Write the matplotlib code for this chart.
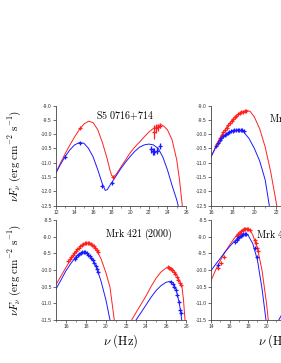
import matplotlib
matplotlib.use("Agg")
import matplotlib.pyplot as plt
from matplotlib.ticker import MultipleLocator, FormatStrFormatter

plt.rcParams['axes.unicode_minus'] = False
plt.rcParams['mathtext.fontset'] = 'cm'
plt.rcParams['font.family'] = ['Liberation Sans', 'DejaVu Sans']

RED = '#ff2020'
BLUE = '#1a1aff'

# ---------------- Panel 1: S5 0716+714 ----------------
p1_red_curve_x = [12.0, 12.5, 13.0, 13.5, 14.0, 14.5, 15.0, 15.5, 16.0, 16.5, 17.0, 17.5, 17.8, 18.0, 18.2, 18.5,
                  19.0, 19.5, 20.0, 20.5, 21.0, 21.5, 22.0, 22.5, 23.0, 23.3, 23.6, 24.0, 24.5, 25.0, 25.3, 25.6]
p1_red_curve_y = [-11.35, -11.0, -10.68, -10.38, -10.1, -9.85, -9.65, -9.55, -9.6, -9.85, -10.3, -10.85, -11.25,
                  -11.45, -11.5, -11.4, -11.15, -10.9, -10.65, -10.45, -10.28, -10.1, -9.93, -9.8, -9.7, -9.67,
                  -9.72, -9.85, -10.2, -10.9, -11.6, -12.5]
p1_blue_curve_x = [12.0, 12.5, 13.0, 13.5, 14.0, 14.5, 15.0, 15.5, 16.0, 16.5, 17.0, 17.3, 17.5, 17.8, 18.0, 18.5,
                   19.0, 19.5, 20.0, 20.5, 21.0, 21.5, 22.0, 22.5, 23.0, 23.5, 24.0, 24.5, 25.0, 25.15]
p1_blue_curve_y = [-11.35, -11.05, -10.78, -10.55, -10.38, -10.3, -10.32, -10.5, -10.8, -11.25, -11.75, -11.97,
                   -11.95, -11.8, -11.7, -11.45, -11.2, -10.98, -10.78, -10.6, -10.46, -10.38, -10.35, -10.38,
                   -10.5, -10.8, -11.25, -11.8, -12.3, -12.5]
p1_red_pts_x = [14.6, 18.1, 22.5, 22.75, 23.0, 23.25]
p1_red_pts_y = [-9.8, -11.5, -9.92, -9.8, -9.76, -9.7]
p1_red_pts_err = [0.02, 0.02, 0.25, 0.15, 0.12, 0.1]
p1_blue_pts_x = [13.0, 14.6, 17.0, 18.05, 22.2, 22.4, 22.6, 22.85, 23.2]
p1_blue_pts_y = [-10.8, -10.3, -11.8, -11.7, -10.53, -10.6, -10.62, -10.58, -10.42]
p1_blue_pts_err = [0.02, 0.02, 0.02, 0.02, 0.12, 0.12, 0.12, 0.12, 0.1]

# ---------------- Panel 2: Mrk 501 ----------------
p2_red_curve_x = [16.0, 16.5, 17.0, 17.5, 18.0, 18.5, 19.0, 19.3, 19.6, 20.0, 20.5, 21.0, 21.5, 22.07]
p2_red_curve_y = [-10.8, -10.38, -10.02, -9.72, -9.48, -9.3, -9.2, -9.18, -9.2, -9.4, -9.82, -10.45, -11.3, -12.5]
p2_blue_curve_x = [16.0, 16.5, 17.0, 17.5, 18.0, 18.5, 19.0, 19.5, 20.0, 20.5, 21.0, 21.38]
p2_blue_curve_y = [-10.8, -10.42, -10.15, -9.98, -9.88, -9.85, -9.92, -10.15, -10.5, -10.95, -11.6, -12.5]
p2_red_pts_x = [16.55, 16.7, 16.85, 17.0, 17.15, 17.3, 17.45, 17.6, 17.75, 17.9, 18.05, 18.2, 18.35, 18.5, 18.65,
                18.8, 18.95, 19.1, 19.25]
p2_red_pts_y = [-10.36, -10.25, -10.14, -10.02, -9.93, -9.87, -9.77, -9.68, -9.6, -9.53, -9.47, -9.41, -9.36,
                -9.31, -9.27, -9.24, -9.22, -9.2, -9.19]
p2_blue_pts_x = [16.5, 16.65, 16.8, 16.95, 17.1, 17.25, 17.4, 17.55, 17.7, 17.85, 18.0, 18.15, 18.3, 18.45, 18.6,
                 18.75, 18.9, 19.05]
p2_blue_pts_y = [-10.4, -10.3, -10.22, -10.15, -10.08, -10.03, -9.99, -9.95, -9.92, -9.9, -9.88, -9.86, -9.85,
                 -9.85, -9.85, -9.86, -9.87, -9.89]

# ---------------- Panel 3: Mrk 421 (2000) ----------------
p3_red_curve_x = [15.0, 15.5, 16.0, 16.5, 17.0, 17.5, 18.0, 18.13, 18.5, 19.0, 19.5, 20.0, 20.4, 20.83,
                  None,
                  22.57, 23.0, 23.5, 24.0, 24.5, 25.0, 25.5, 26.0, 26.3, 26.6, 27.0, 27.3, 27.6, 27.75, 27.9]
p3_red_curve_y = [-10.44, -10.18, -9.92, -9.68, -9.45, -9.28, -9.2, -9.19, -9.23, -9.38, -9.66, -10.09, -10.52,
                  -11.5,
                  None,
                  -11.5, -11.28, -11.03, -10.78, -10.5, -10.25, -10.06, -9.94, -9.91, -9.95, -10.12, -10.3,
                  -10.5, -10.9, -11.5]
p3_blue_curve_x = [15.0, 15.5, 16.0, 16.5, 17.0, 17.5, 17.8, 18.0, 18.5, 19.0, 19.5, 20.0, 20.4,
                   None,
                   23.0, 23.5, 24.0, 24.5, 25.0, 25.5, 26.0, 26.4, 26.7, 27.0, 27.3, 27.47, 27.57]
p3_blue_curve_y = [-10.57, -10.3, -10.02, -9.8, -9.6, -9.49, -9.46, -9.47, -9.61, -9.89, -10.33, -10.91, -11.5,
                   None,
                   -11.5, -11.28, -11.05, -10.82, -10.62, -10.47, -10.37, -10.34, -10.38, -10.58, -10.95,
                   -11.25, -11.5]
p3_red_pts_x = [16.25, 16.4, 16.55, 16.7, 16.85, 17.0, 17.15, 17.3, 17.45, 17.6, 17.75, 17.9, 18.05, 18.2, 18.35,
                18.5, 18.65, 18.8, 18.95, 19.1, 19.25,
                26.2, 26.35, 26.5, 26.65, 26.8, 26.95, 27.1, 27.25, 27.4, 27.55]
p3_red_pts_y = [-9.74, -9.68, -9.62, -9.56, -9.5, -9.44, -9.38, -9.33, -9.28, -9.24, -9.21, -9.19, -9.18, -9.18,
                -9.19, -9.21, -9.25, -9.29, -9.34, -9.4, -9.47,
                -9.92, -9.93, -9.96, -10.0, -10.05, -10.12, -10.2, -10.3, -10.38, -10.45]
p3_blue_pts_x = [16.9, 17.05, 17.2, 17.35, 17.5, 17.65, 17.8, 17.95, 18.1, 18.25, 18.4, 18.55, 18.7, 18.85, 19.0,
                 19.15, 19.25,
                 26.55, 26.7, 26.85, 27.0, 27.15, 27.3, 27.45, 27.5]
p3_blue_pts_y = [-9.66, -9.6, -9.55, -9.51, -9.48, -9.46, -9.46, -9.47, -9.5, -9.54, -9.58, -9.63, -9.7, -9.78,
                 -9.87, -9.97, -10.07,
                 -10.36, -10.42, -10.5, -10.6, -10.75, -10.95, -11.2, -11.3]

# ---------------- Panel 4: Mrk 421 ----------------
p4_red_curve_x = [14.0, 14.5, 15.0, 15.5, 16.0, 16.5, 17.0, 17.5, 17.85, 18.2, 18.5, 19.0, 19.5, 20.0, 20.17]
p4_red_curve_y = [-10.32, -10.0, -9.72, -9.47, -9.25, -9.05, -8.88, -8.78, -8.75, -8.8, -8.95, -9.35, -10.02,
                  -11.05, -11.5]
p4_blue_curve_x = [14.0, 14.5, 15.0, 15.5, 16.0, 16.5, 17.0, 17.5, 17.73, 18.0, 18.5, 19.0, 19.5, 19.92,
                   None, 21.3, 22.5]
p4_blue_curve_y = [-10.02, -9.83, -9.65, -9.46, -9.3, -9.14, -9.01, -8.93, -8.92, -8.96, -9.21, -9.7, -10.57,
                   -11.5, None, -11.5, -10.9]
p4_red_pts_x = [14.8, 15.1, 15.4, 16.8, 16.95, 17.1, 17.25, 17.4, 17.55, 17.7, 17.85, 18.0, 18.15, 18.7, 18.85,
                19.0, 19.1]
p4_red_pts_y = [-9.95, -9.8, -9.6, -8.98, -8.93, -8.88, -8.84, -8.8, -8.77, -8.76, -8.76, -8.77, -8.8, -9.1, -9.2,
                -9.33, -9.42]
p4_blue_pts_x = [14.75, 16.6, 16.75, 16.9, 17.05, 17.2, 17.35, 17.5, 17.65, 17.8, 18.7, 18.9]
p4_blue_pts_y = [-9.86, -9.15, -9.1, -9.05, -9.0, -8.97, -8.95, -8.93, -8.92, -8.93, -9.35, -9.6]

titles = ['S5 0716+714', 'Mrk 501', 'Mrk 421 (2000)', 'Mrk 421 (2001)']

W, H = 281, 363
fig = plt.figure(figsize=(W / 100, H / 100), dpi=100)


def make_ax(x0, y_top, x1, y_bot):
    return fig.add_axes([x0 / W, 1 - y_bot / H, (x1 - x0) / W, (y_bot - y_top) / H])


ax1 = make_ax(56, 105.5, 186, 205.5)
ax2 = make_ax(211, 105.5, 341, 205.5)
ax3 = make_ax(56, 220, 186, 320)
ax4 = make_ax(211, 220, 341, 320)


def none_split(x, y):
    segs, cx, cy = [], [], []
    for a, b in zip(x, y):
        if a is None:
            segs.append((cx, cy))
            cx, cy = [], []
        else:
            cx.append(a)
            cy.append(b)
    segs.append((cx, cy))
    return segs


def style(ax, xlim, ylim, title, tx, ty):
    ax.set_xlim(*xlim)
    ax.set_ylim(*ylim)
    for s in ['top', 'right']:
        ax.spines[s].set_visible(False)
    for s in ['left', 'bottom']:
        ax.spines[s].set_linewidth(0.6)
        ax.spines[s].set_color('#444444')
    ax.xaxis.set_major_locator(MultipleLocator(2))
    ax.xaxis.set_minor_locator(MultipleLocator(1))
    ax.yaxis.set_major_locator(MultipleLocator(0.5))
    ax.yaxis.set_major_formatter(FormatStrFormatter('%.1f'))
    ax.xaxis.set_major_formatter(FormatStrFormatter('%d'))
    ax.tick_params(which='major', length=2.0, width=0.5, labelsize=3.6, pad=1, colors='#333333')
    ax.tick_params(which='minor', length=1.2, width=0.4, colors='#333333')
    ax.patch.set_alpha(0)
    ax.text(tx, ty, title, transform=ax.transAxes, fontsize=7.2, ha='left', va='center')


def plot_panel(ax, rcx, rcy, bcx, bcy, rpx, rpy, bpx, bpy, rerr=None, berr=None):
    for sx, sy in none_split(rcx, rcy):
        ax.plot(sx, sy, color=RED, lw=0.7, clip_on=True)
    for sx, sy in none_split(bcx, bcy):
        ax.plot(sx, sy, color=BLUE, lw=0.7, clip_on=True)
    ax.errorbar(rpx, rpy, yerr=rerr, fmt='+', color=RED, ms=3.2, mew=0.9, elinewidth=0.9, capsize=0)
    ax.errorbar(bpx, bpy, yerr=berr, fmt='+', color=BLUE, ms=3.2, mew=0.9, elinewidth=0.9, capsize=0)


plot_panel(ax1, p1_red_curve_x, p1_red_curve_y, p1_blue_curve_x, p1_blue_curve_y,
           p1_red_pts_x, p1_red_pts_y, p1_blue_pts_x, p1_blue_pts_y, p1_red_pts_err, p1_blue_pts_err)
plot_panel(ax2, p2_red_curve_x, p2_red_curve_y, p2_blue_curve_x, p2_blue_curve_y,
           p2_red_pts_x, p2_red_pts_y, p2_blue_pts_x, p2_blue_pts_y)
plot_panel(ax3, p3_red_curve_x, p3_red_curve_y, p3_blue_curve_x, p3_blue_curve_y,
           p3_red_pts_x, p3_red_pts_y, p3_blue_pts_x, p3_blue_pts_y)
plot_panel(ax4, p4_red_curve_x, p4_red_curve_y, p4_blue_curve_x, p4_blue_curve_y,
           p4_red_pts_x, p4_red_pts_y, p4_blue_pts_x, p4_blue_pts_y)


def mt(s):
    return r'$\mathrm{' + s.replace(' ', r'\ ').replace('+', '{+}') + '}$'


style(ax1, (12, 26), (-12.5, -9.0), mt(titles[0]), 0.31, 0.9)
style(ax2, (16, 28), (-12.5, -9.0), mt(titles[1]), 0.445, 0.88)
style(ax3, (15, 28), (-11.5, -8.5), mt(titles[2]), 0.375, 0.86)
style(ax4, (14, 28), (-11.5, -8.5), mt(titles[3]), 0.35, 0.85)

ylab = r'$\nu F_{\nu}\ (\mathrm{erg\ cm}^{-2}\ \mathrm{s}^{-1})$'
for ax in (ax1, ax3):
    ax.set_ylabel(ylab, fontsize=8)
    ax.yaxis.set_label_coords(-0.25, 0.5)
for ax in (ax3, ax4):
    ax.set_xlabel(r'$\nu\ (\mathrm{Hz})$', fontsize=9)
    ax.xaxis.set_label_coords(0.5, -0.12)

fig.savefig('out.png', dpi=100)
